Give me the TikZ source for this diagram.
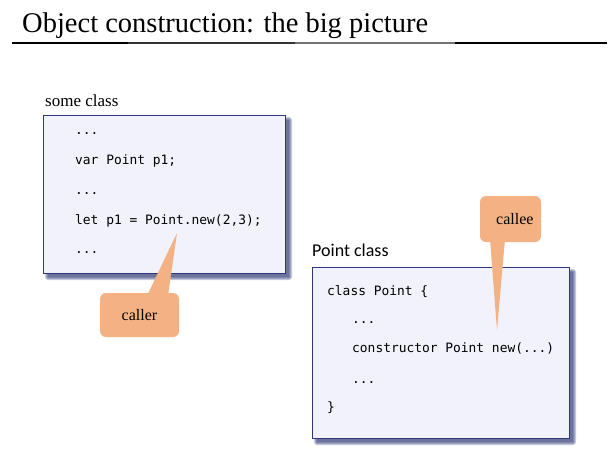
\documentclass[tikz,border=0pt]{standalone}
\usepackage{fontspec}
\setmainfont{Liberation Serif}
\setmonofont{DejaVu Sans Mono}
\newfontfamily\labelfont{Carlito}
\newfontfamily\seriffont{Liberation Serif}
\usepackage{tikz}
\usetikzlibrary{positioning}

\definecolor{boxfill}{RGB}{242,242,252}
\definecolor{boxline}{RGB}{47,56,120}
\definecolor{shadowcol}{RGB}{45,55,115}
\definecolor{callfill}{RGB}{244,177,131}

\tikzset{
  codebox/.style={draw=boxline, fill=boxfill, line width=0.9pt, inner sep=0pt, anchor=north west},
  shadowlayer/.style={fill=shadowcol, opacity=0.26},
  codeline/.style={anchor=base west, inner sep=0pt, font=\ttfamily\fontsize{12.9}{14}\selectfont},
  callout/.style={fill=callfill, rounded corners=6pt, inner sep=0pt, font=\seriffont\fontsize{16}{18}\selectfont}
}

\begin{document}
\begin{tikzpicture}[x=1pt, y=-1pt]
  \useasboundingbox (0,0) rectangle (615,456);
  % title
  \node[anchor=base west, inner sep=0pt, font=\seriffont\fontsize{28.5}{32}\selectfont] (title) at (22,32) {Object construction: the big picture};
  \draw[line width=1.2pt, black] (12,43) -- (128,43);
  \draw[line width=1.2pt, black!80] (128,43) -- (295,43);
  \draw[line width=1.2pt, black!55] (295,43) -- (455,43);
  \draw[line width=1.2pt, black] (455,43) -- (607,43);

  % soft shadows behind the boxes
  \foreach \r in {0,1,2,3}{
    \fill[shadowlayer, rounded corners=\r pt] (48-\r,120-\r) rectangle (289+\r,277+\r);
    \fill[shadowlayer, rounded corners=\r pt] (317-\r,272-\r) rectangle (573+\r,442+\r);
  }

  % left box
  \node[codebox, minimum width=242pt, minimum height=158pt] (somebox) at (43,115) {};
  \node[anchor=base west, inner sep=0pt, font=\seriffont\fontsize{17}{19}\selectfont] (somelabel) at (45,106) {some class};
  \node[codeline] (s1) at (75,134) {...};
  \node[codeline] (s2) at (75,164) {var Point p1;};
  \node[codeline] (s3) at (75,194) {...};
  \node[codeline] (s4) at (75,224) {let p1 = Point.new(2,3);};
  \node[codeline] (s5) at (75,253) {...};

  % right box
  \node[codebox, minimum width=257pt, minimum height=171pt] (pointbox) at (312,267) {};
  \node[anchor=base west, inner sep=0pt, font=\labelfont\fontsize{18}{20}\selectfont] (pointlabel) at (312,256) {Point class};
  \node[codeline] (p1) at (327,295) {class Point \{};
  \node[codeline] (p2) at (352,323) {...};
  \node[codeline] (p3) at (352,352) {constructor Point new(...)};
  \node[codeline] (p4) at (352,383) {...};
  \node[codeline] (p5) at (327,411) {\}};

  % callouts
  \node[callout, minimum width=79pt, minimum height=44pt] (caller) at (139.5,315) {caller};
  \coordinate (callertip) at (177,233);
  \fill[callfill] ([xshift=7.5pt, yshift=-3pt]caller.north) -- (callertip) -- ([xshift=28.5pt, yshift=-3pt]caller.north) -- cycle;

  \node[callout, minimum height=46pt, text width=46pt, inner xsep=7.5pt, align=right] (callee) at (510.5,219) {callee};
  \coordinate (calleetip) at (497,330);
  \fill[callfill] ([xshift=-20.5pt, yshift=3pt]callee.south) -- (calleetip) -- ([xshift=-5.5pt, yshift=3pt]callee.south) -- cycle;
\end{tikzpicture}
\end{document}
